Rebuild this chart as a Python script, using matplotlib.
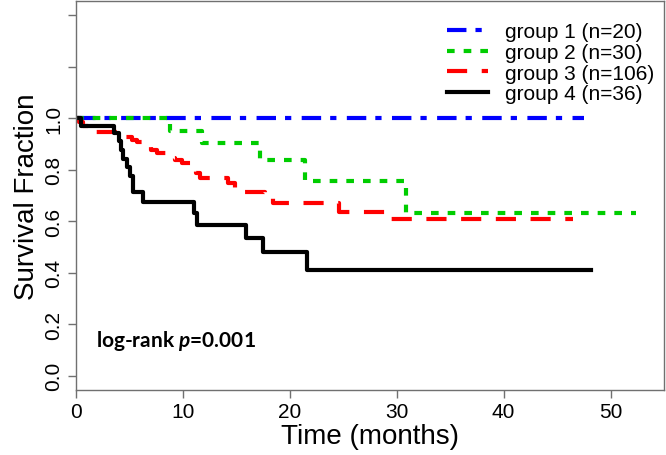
import matplotlib
matplotlib.use("Agg")
import matplotlib.pyplot as plt
import numpy as np

plt.rcParams['font.family'] = ['Liberation Sans', 'DejaVu Sans']
plt.rcParams['lines.scale_dashes'] = False
plt.rcParams['mathtext.fontset'] = 'custom'
plt.rcParams['mathtext.it'] = 'Lato:bold:italic'
plt.rcParams['mathtext.rm'] = 'Lato:bold'

# Kaplan-Meier step data (time of drop, survival after drop)
g1_times = [0.0]
g1_surv = [1.0]
g1_end = 47.5

g2_times = [0.0, 8.8, 11.8, 17.2, 21.4, 30.9]
g2_surv = [1.0, 0.952, 0.905, 0.839, 0.758, 0.632]
g2_end = 52.4

g3_times = [0.0, 0.3, 0.7, 1.7, 4.3, 4.7, 5.2, 5.7, 6.5, 7.0, 7.6, 8.7, 9.3, 9.9,
            10.8, 11.2, 11.6, 14.2, 14.9, 17.7, 18.4, 24.6, 29.3]
g3_surv = [1.0, 0.986, 0.972, 0.947, 0.937, 0.927, 0.917, 0.907, 0.888, 0.877, 0.866,
           0.847, 0.837, 0.827, 0.808, 0.789, 0.768, 0.748, 0.714, 0.692, 0.669, 0.636, 0.609]
g3_end = 46.5

g4_times = [0.0, 0.5, 3.6, 4.0, 4.2, 4.4, 4.8, 5.05, 5.3, 6.3, 11.0, 11.3, 15.9, 17.5, 21.6]
g4_surv = [1.0, 0.972, 0.944, 0.910, 0.875, 0.841, 0.809, 0.776, 0.712, 0.673, 0.631,
           0.586, 0.536, 0.482, 0.412]
g4_end = 48.2

labels = ["group 1 (n=20)", "group 2 (n=30)", "group 3 (n=106)", "group 4 (n=36)"]
colors = ["#0000ff", "#00cd00", "#ff0000", "#000000"]
styles = [(0, (14, 6.5, 4.5, 7.5)), (0, (5.5, 6.5)), (0, (14.5, 10.5)), "-"]

groups = [(g1_times, g1_surv, g1_end), (g2_times, g2_surv, g2_end),
          (g3_times, g3_surv, g3_end), (g4_times, g4_surv, g4_end)]

fig = plt.figure(figsize=(6.66, 4.56), dpi=100)
ax = fig.add_axes([76 / 666, (456 - 391) / 456, (664 - 76) / 666, (391 - 2) / 456])

for (t, s, end), lab, col, ls in zip(groups, labels, colors, styles):
    x = np.append(t, end)
    y = np.append(s, s[-1])
    ax.step(x, y, where='post', color=col, linestyle=ls, lw=3, label=lab)

ax.set_xlim(0, 55)
ax.set_ylim(-0.056, 1.456)
ax.set_xticks([0, 10, 20, 30, 40, 50])
ax.set_yticks([0, 0.2, 0.4, 0.6, 0.8, 1.0, 1.2, 1.4])
ax.set_yticklabels(["0.0", "0.2", "0.4", "0.6", "0.8", "1.0", "", ""],
                   rotation=90, va='center')

for sp in ax.spines.values():
    sp.set_color('#707070')
    sp.set_linewidth(1.0)
ax.tick_params(colors='#707070', labelcolor='black', length=6, width=1.0,
               labelsize=15)
ax.tick_params(axis='y', pad=3)
ax.tick_params(axis='x', pad=3)

ax.set_xlabel("Time (months)", fontsize=20, labelpad=1)
ax.set_ylabel("Survival Fraction", fontsize=20, labelpad=3)

ax.text(1.9, 0.14, "log-rank $p$=0.001", fontsize=15, fontweight='bold',
        family=['Lato', 'DejaVu Sans'], va='center', ha='left')

ax.legend(loc='upper left', bbox_to_anchor=(0.631, 0.945), frameon=False,
          fontsize=15, handlelength=1.95, handletextpad=0.85, labelspacing=0.08,
          borderaxespad=0, borderpad=0)

fig.savefig("out.png", dpi=100)
